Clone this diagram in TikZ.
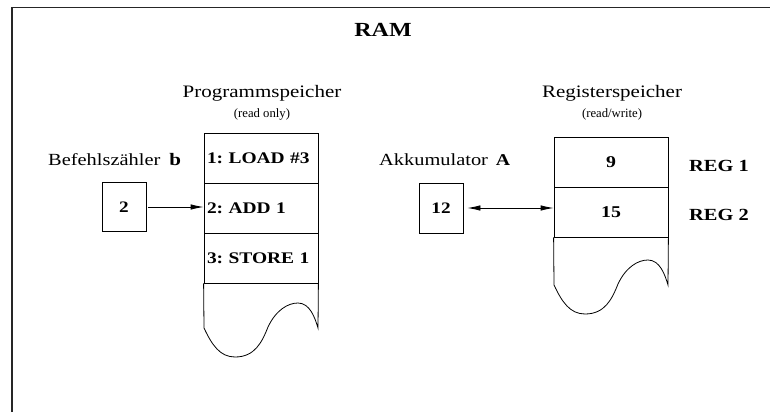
\documentclass[tikz,border=0pt]{standalone}
\usepackage{fontspec}
\setmainfont{Liberation Serif}[FakeStretch=1.2]
\newfontfamily\plainserif{Liberation Serif}
\usetikzlibrary{arrows.meta}
\tikzset{
  cell/.style={draw, line width=0.8pt, minimum width=114pt, minimum height=50pt, inner sep=0pt},
  progtext/.style={text width=108pt, align=left, font=\frenchspacing\fontsize{16.2}{18}\selectfont\bfseries},
  regtext/.style={font=\fontsize{16.5}{18}\selectfont\bfseries},
  smallbox/.style={draw, line width=0.8pt, minimum width=44pt, minimum height=49pt, inner sep=0pt, font=\fontsize{16}{18}\selectfont\bfseries},
  lbl/.style={inner sep=0pt, font=\fontsize{17}{20}\selectfont},
  title/.style={inner sep=0pt, font=\fontsize{17.5}{20}\selectfont},
  subtitle/.style={inner sep=0pt, font=\plainserif\fontsize{12.7}{15}\selectfont},
  reglbl/.style={inner sep=0pt, anchor=west, font=\fontsize{17}{20}\selectfont\bfseries},
  arr/.style={line width=0.8pt, -{Latex[length=13pt,width=5.5pt]}},
  darr/.style={line width=0.8pt, {Latex[length=13pt,width=5.5pt]}-{Latex[length=13pt,width=5.5pt]}},
  tail/.style={line width=0.8pt},
}
\begin{document}
\begin{tikzpicture}[x=1pt,y=-1pt]
\useasboundingbox (0,0) rectangle (770,412);
% frame
\draw[line width=1.1pt, draw=black!85] (12,412) -- (12,7.5) -- (770,7.5);
% title
\node[inner sep=0pt, font=\fontsize{20}{24}\selectfont\bfseries] (ram) at (383,30) {RAM};
% headings
\node[title] (ptitle) at (262,93) {Programmspeicher};
\node[subtitle] (psub) at (262,114) {(read only)};
\node[title] (rtitle) at (612,93) {Registerspeicher};
\node[subtitle] (rsub) at (612,114) {(read/write)};
% program memory
\node[cell, progtext] (p1) at (261,158) {1: LOAD \#3};
\node[cell, progtext] (p2) at (261,208) {2: ADD 1};
\node[cell, progtext] (p3) at (261,258) {3: STORE 1};
\draw[tail] (p3.south west) -- (204,328)
  .. controls (212,345) and (220,357) .. (235,357)
  .. controls (255,357) and (262,342) .. (268,327)
  .. controls (276,310) and (288,303) .. (298,303)
  .. controls (310,303) and (315,318) .. (318,328)
  -- (p3.south east);
% register memory
\node[cell, regtext] (r1) at (611,162) {9};
\node[cell, regtext] (r2) at (611,212) {15};
\draw[tail] (r2.south west) -- (554,285)
  .. controls (562,302) and (570,314) .. (585,314)
  .. controls (605,314) and (612,299) .. (618,284)
  .. controls (626,267) and (638,260) .. (648,260)
  .. controls (660,260) and (665,275) .. (668,285)
  -- (r2.south east);
\node[reglbl] (reg1) at (689,166) {REG 1};
\node[reglbl] (reg2) at (689,215) {REG 2};
% program counter
\node[lbl, anchor=base west] (bz) at (48,165) {Befehlsz\"ahler\hspace{9pt}{\fontsize{17.5}{20}\selectfont\bfseries b}};
\node[smallbox] (cnt) at (124,207) {2};
\draw[arr] ([xshift=2pt]cnt.east) -- (cnt.east -| p2.west);
% accumulator
\node[lbl, anchor=base west] (ak) at (379,165) {Akkumulator\hspace{8pt}{\fontsize{16.5}{20}\selectfont\bfseries A}};
\node[smallbox, minimum height=50pt] (acc) at (441,208) {12};
\draw[darr] ([xshift=4pt]acc.east) -- (acc.east -| r2.west);
\end{tikzpicture}
\end{document}
